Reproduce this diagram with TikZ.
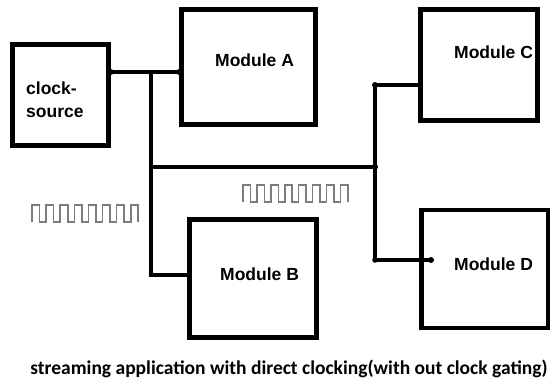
\documentclass[tikz,border=0pt]{standalone}
\usepackage{fontspec}
\setmainfont{Liberation Sans}
\newfontfamily\capfont{Carlito}
\definecolor{wavegray}{RGB}{125,125,125}
\begin{document}
\begin{tikzpicture}[x=1pt,y=-1pt,
  box/.style={draw=black,line width=4.5pt,rectangle,inner sep=0pt,line join=miter},
  wire/.style={line width=4pt,line cap=rect,line join=miter},
  jdot/.style={fill=black},
  lbl/.style={font=\fontsize{17.5}{21}\bfseries\selectfont,anchor=base west,inner sep=0pt},
  captxt/.style={font=\capfont\fontsize{19.5}{23}\bfseries\selectfont,anchor=base,inner sep=0pt},
  wave/.style={draw=wavegray,line width=1.6pt,line join=miter}]
\useasboundingbox[fill=white] (0,0) rectangle (551,380);

% boxes
\node[box,minimum width=96pt,minimum height=101pt] (clk) at (60.5,95) {};
\node[box,minimum width=134pt,minimum height=115pt] (A) at (248.5,67) {};
\node[box,minimum width=117pt,minimum height=111pt] (C) at (479,65) {};
\node[box,minimum width=127pt,minimum height=118pt] (B) at (253,278.5) {};
\node[box,minimum width=126.5pt,minimum height=118pt] (D) at (484.75,269) {};

% labels
\node[lbl] (clktxt1) at (26,94) {clock-};
\node[lbl] (clktxt2) at (26,117) {source};
\node[lbl] (Atxt) at (215,66) {Module A};
\node[lbl] (Ctxt) at (454,58) {Module C};
\node[lbl] (Btxt) at (220,280) {Module B};
\node[lbl] (Dtxt) at (454,270) {Module D};
\node[captxt] (caption) at (289,374) {streaming application with direct clocking(with out clock gating)};

% junction coordinates
\coordinate (j1) at (150.5,72);
\coordinate (j2) at (150.5,167);
\coordinate (j3) at (150.5,275);
\coordinate (k1) at (375,85);
\coordinate (k2) at (375,167);
\coordinate (k3) at (375,260);
\coordinate (dend) at (431,260);

% wires
\draw[wire] (clk.east |- j1) -- (A.west |- j1);
\draw[wire] (j1) -- (j3) -- (B.west |- j3);
\draw[wire] (j2) -- (k2);
\draw[wire] (C.west |- k1) -- (k1) -- (k3) -- (dend);

% dots
\fill[jdot] (clk.east |- j1) circle (3pt);
\fill[jdot] (A.west |- j1) circle (3pt);
\fill[jdot] (k1) circle (3pt);
\fill[jdot] (k2) circle (3pt);
\fill[jdot] (k3) circle (2.8pt);
\fill[jdot] (dend) circle (3pt);

% clock waveforms
\draw[wave] (32,222) \foreach \i in {1,...,7}{ -- ++(0,-17) -- ++(7.5,0) -- ++(0,17) -- ++(6.6,0) } -- ++(0,-17) -- ++(7.5,0) -- ++(0,17);
\draw[wave] (243,202) \foreach \i in {1,...,7}{ -- ++(0,-17) -- ++(7.5,0) -- ++(0,17) -- ++(6.4,0) } -- ++(0,-17) -- ++(7.5,0) -- ++(0,17);
\end{tikzpicture}
\end{document}
